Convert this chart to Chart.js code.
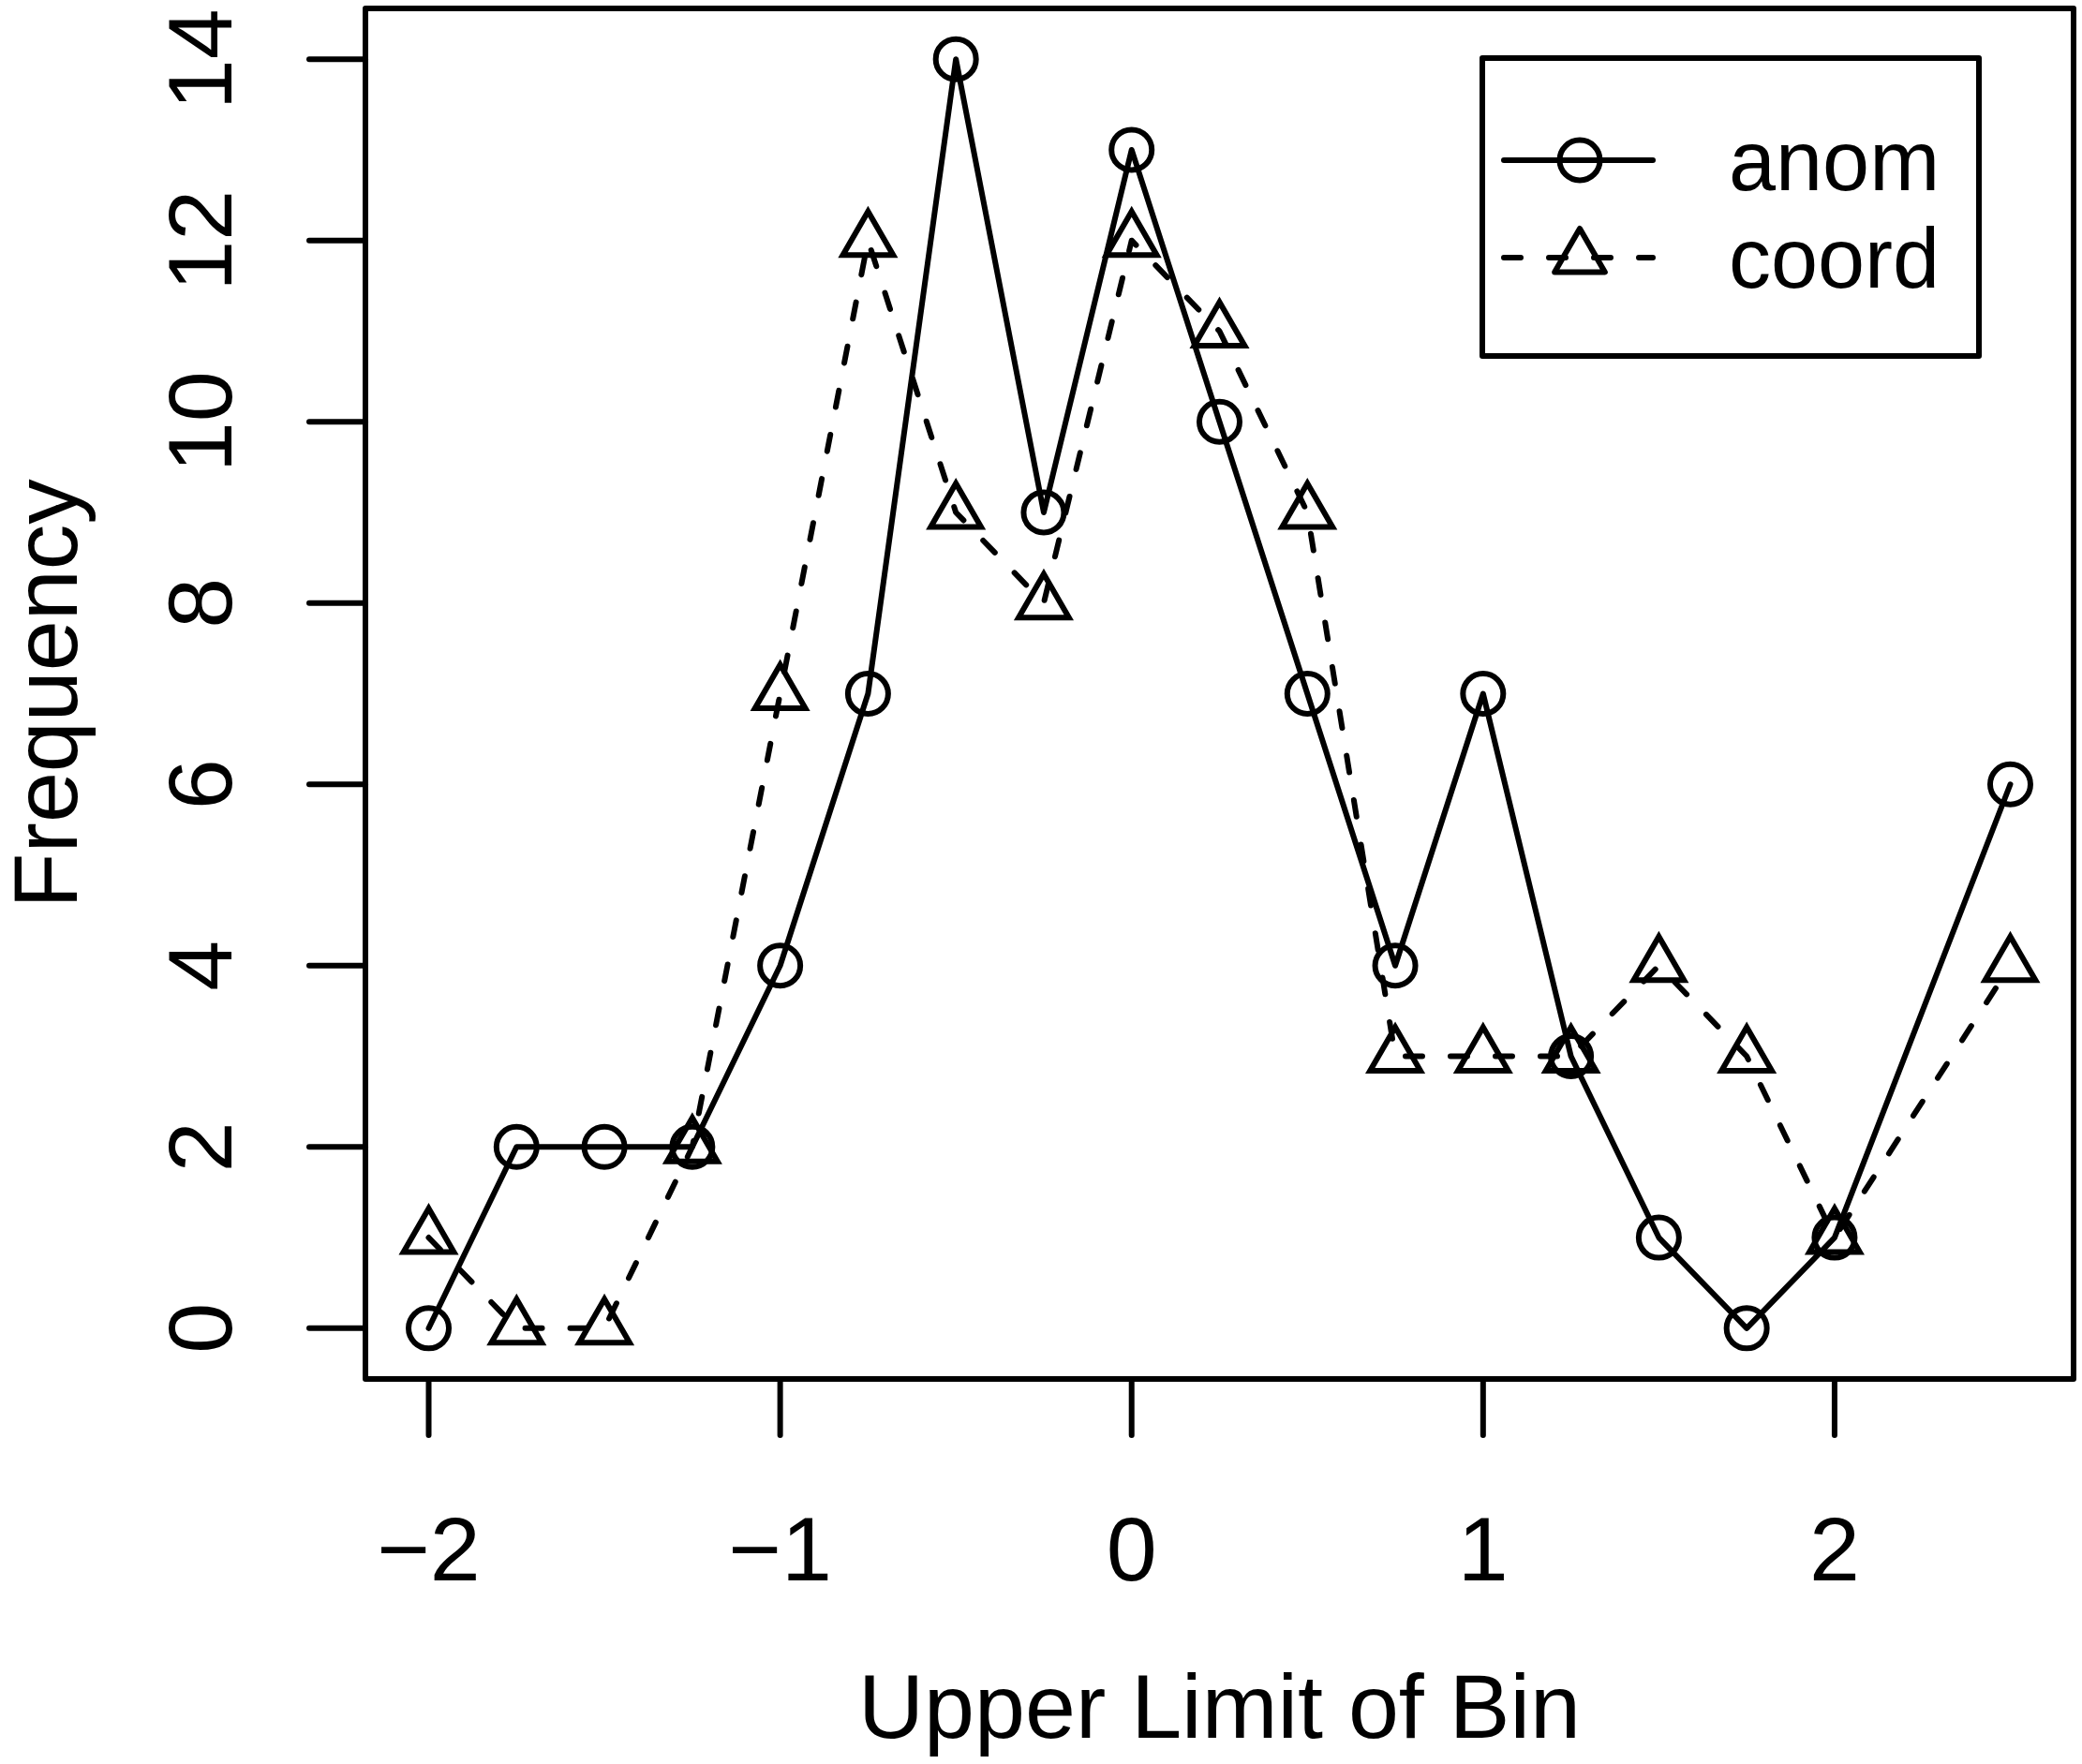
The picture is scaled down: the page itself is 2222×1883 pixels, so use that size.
<!DOCTYPE html>
<html>
<head>
<meta charset="utf-8">
<script src="https://cdn.jsdelivr.net/npm/chart.js@4.4.1/dist/chart.umd.min.js"></script>
<style>
  html, body { margin: 0; padding: 0; background: #ffffff; }
  #wrap { width: 2222px; height: 1883px; position: relative; }
  canvas { display: block; }
</style>
</head>
<body>
<div id="wrap"><canvas id="c" width="2222" height="1883"></canvas></div>
<script>
// ---- data ----
const binUpperLimits = [-2, -1.75, -1.5, -1.25, -1, -0.75, -0.5, -0.25, 0, 0.25, 0.5, 0.75, 1, 1.25, 1.5, 1.75, 2, 2.5];
const anomCounts  = [0, 2, 2, 2, 4, 7, 14, 9, 13, 10, 7, 4, 7, 3, 1, 0, 1, 6];
const coordCounts = [1, 0, 0, 2, 7, 12, 9, 8, 12, 11, 9, 3, 3, 3, 4, 3, 1, 4];
const seriesNames = ['anom', 'coord'];
const xAxisTitle = 'Upper Limit of Bin';
const yAxisTitle = 'Frequency';
const xTickValues = [-2, -1, 0, 1, 2];
const yTickValues = [0, 2, 4, 6, 8, 10, 12, 14];

const FONT = '"Liberation Sans", Arial, Helvetica, sans-serif';
const LW = 6;
const DASH = [18, 30];

function fmt(v) { return v < 0 ? '\u2212' + Math.abs(v) : String(v); }
function toPoints(xs, ys) { return xs.map((x, i) => ({ x: x, y: ys[i] })); }

const framePlugin = {
  id: 'rframe',
  afterDraw(chart) {
    const ctx = chart.ctx;
    const a = chart.chartArea;
    const xs = chart.scales.x, ys = chart.scales.y;
    ctx.save();
    ctx.strokeStyle = '#000';
    ctx.fillStyle = '#000';
    ctx.lineWidth = LW;
    ctx.lineCap = 'round';
    ctx.lineJoin = 'round';
    // box
    ctx.strokeRect(a.left, a.top, a.right - a.left, a.bottom - a.top);
    const tickLen = 60;
    // x ticks
    ctx.font = '97px ' + FONT;
    ctx.textAlign = 'center';
    ctx.textBaseline = 'alphabetic';
    xs.ticks.forEach(t => {
      const px = xs.getPixelForValue(t.value);
      ctx.beginPath(); ctx.moveTo(px, a.bottom); ctx.lineTo(px, a.bottom + tickLen); ctx.stroke();
      ctx.fillText(fmt(t.value), px, 1687);
    });
    // y ticks
    ys.ticks.forEach(t => {
      const py = ys.getPixelForValue(t.value);
      ctx.beginPath(); ctx.moveTo(a.left, py); ctx.lineTo(a.left - tickLen, py); ctx.stroke();
      ctx.save();
      ctx.translate(247, py);
      ctx.rotate(-Math.PI / 2);
      ctx.fillText(fmt(t.value), 0, 0);
      ctx.restore();
    });
    // axis titles
    ctx.fillText(xAxisTitle, (a.left + a.right) / 2, 1855);
    ctx.save();
    ctx.translate(82, (a.top + a.bottom) / 2);
    ctx.rotate(-Math.PI / 2);
    ctx.fillText(yAxisTitle, 0, 0);
    ctx.restore();

    // legend
    const lb = { l: 1582, t: 62, r: 2112, b: 380 };
    ctx.lineWidth = LW;
    ctx.strokeRect(lb.l, lb.t, lb.r - lb.l, lb.b - lb.t);
    const rows = [
      { y: 171, base: 203, dash: [], style: 'circle', r: 21.5, name: chart.data.datasets[0].label },
      { y: 275, base: 307, dash: DASH, style: 'triangle', r: 31, name: chart.data.datasets[1].label }
    ];
    rows.forEach(row => {
      ctx.lineWidth = LW;
      ctx.setLineDash(row.dash);
      ctx.beginPath(); ctx.moveTo(1605, row.y); ctx.lineTo(1764, row.y); ctx.stroke();
      ctx.setLineDash([]);
      ctx.beginPath();
      if (row.style === 'circle') {
        ctx.arc(1686, row.y, row.r, 0, Math.PI * 2);
      } else {
        for (let k = 0; k < 3; k++) {
          const ang = k * 2 * Math.PI / 3;
          const px = 1686 + Math.sin(ang) * row.r, py = row.y - Math.cos(ang) * row.r;
          if (k === 0) ctx.moveTo(px, py); else ctx.lineTo(px, py);
        }
        ctx.closePath();
      }
      ctx.stroke();
      ctx.font = '90px ' + FONT;
      ctx.textAlign = 'left';
      ctx.fillText(row.name, 1845, row.base);
    });
    ctx.restore();
  }
};

new Chart(document.getElementById('c'), {
  type: 'line',
  data: {
    datasets: [
      {
        label: seriesNames[0],
        data: toPoints(binUpperLimits, anomCounts),
        borderColor: '#000',
        borderWidth: LW,
        borderCapStyle: 'round',
        borderJoinStyle: 'round',
        tension: 0,
        fill: false,
        pointStyle: 'circle',
        pointRadius: 21.5,
        pointBorderWidth: LW,
        pointBorderColor: '#000',
        pointBackgroundColor: 'rgba(0,0,0,0)',
        clip: false
      },
      {
        label: seriesNames[1],
        data: toPoints(binUpperLimits, coordCounts),
        borderColor: '#000',
        borderWidth: LW,
        borderDash: DASH,
        borderCapStyle: 'round',
        borderJoinStyle: 'round',
        tension: 0,
        fill: false,
        pointStyle: 'triangle',
        pointRadius: 31,
        pointBorderWidth: LW,
        pointBorderColor: '#000',
        pointBackgroundColor: 'rgba(0,0,0,0)',
        clip: false
      }
    ]
  },
  options: {
    responsive: false,
    animation: false,
    devicePixelRatio: 1,
    layout: { autoPadding: false, padding: { left: 390, top: 9, right: 9, bottom: 411 } },
    plugins: { legend: { display: false }, tooltip: { enabled: false } },
    scales: {
      x: {
        type: 'linear',
        min: -2.18, max: 2.68,
        afterBuildTicks: (s) => { s.ticks = xTickValues.map(v => ({ value: v })); },
        ticks: { display: false },
        grid: { display: false, drawTicks: false },
        border: { display: false },
        title: { display: false }
      },
      y: {
        type: 'linear',
        min: -0.56, max: 14.56,
        afterBuildTicks: (s) => { s.ticks = yTickValues.map(v => ({ value: v })); },
        ticks: { display: false },
        grid: { display: false, drawTicks: false },
        border: { display: false },
        title: { display: false }
      }
    }
  },
  plugins: [framePlugin]
});
</script>
</body>
</html>
